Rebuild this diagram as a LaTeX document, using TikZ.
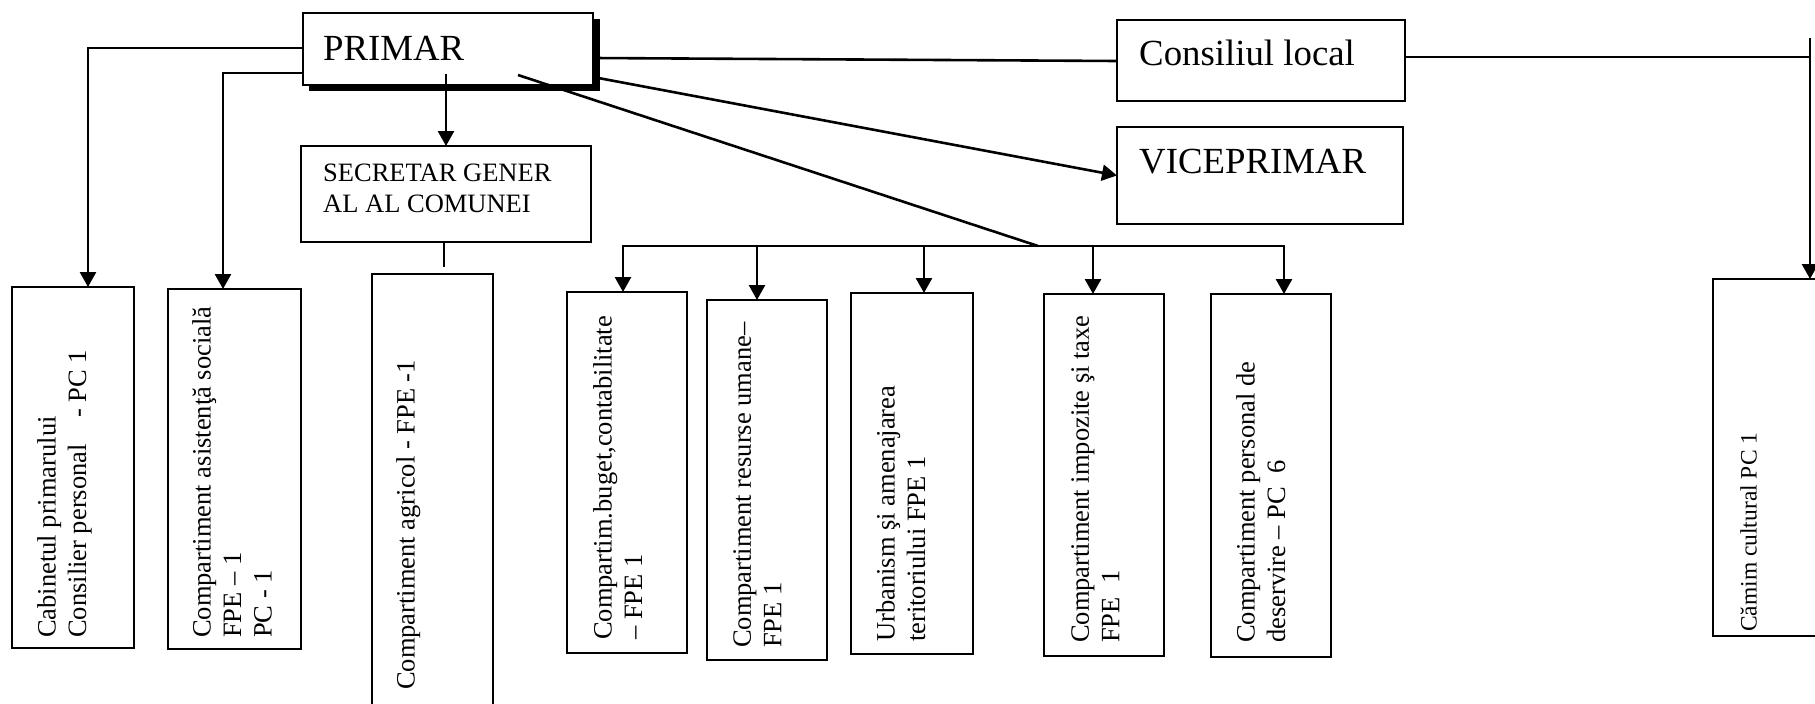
\documentclass[tikz,border=0pt]{standalone}
\usepackage{fontspec}
\setmainfont{Liberation Serif}
\usetikzlibrary{arrows.meta}
\begin{document}
\begin{tikzpicture}[x=1pt,y=-1pt,
  box/.style={draw, line width=2.7pt, fill=white, inner sep=0pt, outer sep=0pt, anchor=north west},
  conn/.style={line width=2.6pt},
  arr/.style={conn, -{Triangle[length=15pt,width=16pt]}},
  vtext/.style={rotate=90, anchor=north west, inner sep=0pt, align=left, font=\fontsize{26.5pt}{30.5pt}\selectfont},
  stext/.style={anchor=north west, inner sep=0pt, align=left, font=\fontsize{26.5pt}{30.5pt}\selectfont},
  htext/.style={anchor=base west, inner sep=0pt, font=\fontsize{36.8pt}{42pt}\selectfont},
]
\fill[white] (0,0) rectangle (1815,704);
\useasboundingbox (0,0) rectangle (1815,704);

% shadow of PRIMAR
\fill[black] (309,19) rectangle (600,91);
% boxes
\node[box, minimum width=290pt, minimum height=72pt] (primar) at (303,13) {};
\node[box, minimum width=290pt, minimum height=96pt] (secretar) at (301,146) {};
\node[box, minimum width=288pt, minimum height=81pt] (consiliu) at (1117,20) {};
\node[box, minimum width=286pt, minimum height=97pt] (vice) at (1117,127) {};
\node[box, minimum width=122pt, minimum height=361pt] (cab) at (12,287) {};
\node[box, minimum width=133pt, minimum height=360pt] (asist) at (168,289) {};
\node[box, minimum width=121pt, minimum height=460pt] (agr) at (372,274) {};
\node[box, minimum width=120pt, minimum height=361pt] (buget) at (567,292) {};
\node[box, minimum width=120pt, minimum height=360pt] (res) at (707,300) {};
\node[box, minimum width=122pt, minimum height=361pt] (urb) at (851,293) {};
\node[box, minimum width=120pt, minimum height=362pt] (imp) at (1044,294) {};
\node[box, minimum width=120pt, minimum height=363pt] (pers) at (1211,294) {};
\node[box, minimum width=194pt, minimum height=357pt] (camin) at (1713,279) {};

% texts
\node[htext] (primarT) at (323,60) {PRIMAR};
\node[htext] (consT) at (1139,65) {Consiliul local};
\node[htext] (viceT) at (1139,173) {VICEPRIMAR};
\node[stext] (secT) at (323,164) {SECRETAR GENER\\AL AL COMUNEI};

\node[vtext] (cabT) at (37,638) {Cabinetul primarului\\Consilier personal\hspace{0.75em} - PC 1};
\node[vtext] (asistT) at (192,638) {Compartiment asistenţă socială\\FPE – 1\\PC - 1};
\node[vtext] (agrT) at (396,690) {Compartiment agricol - FPE -1};
\node[vtext] (bugT) at (593,640) {Compartim.buget,contabilitate\\– FPE 1};
\node[vtext] (resT) at (733,648) {Compartiment resurse umane–\\FPE 1};
\node[vtext] (urbT) at (876,642) {Urbanism şi amenajarea\\teritoriului FPE 1};
\node[vtext] (impT) at (1071,643) {Compartiment impozite şi taxe\\FPE\ \ 1};
\node[vtext] (persT) at (1236,643) {Compartiment personal de\\deservire – PC\ \ 6};
\node[vtext, font=\fontsize{23.5pt}{27pt}\selectfont] (caminT) at (1740,632) {Cămim cultural PC 1};

% connectors
\draw[arr] (primar.west |- 0,48) -| (88,0 |- cab.north);
\draw[arr] (primar.west |- 0,73) -| (223,0 |- asist.north);
\coordinate (pd) at (446,74);
\draw[arr] (pd) -- (pd |- secretar.north);
\coordinate (sd) at (444,267);
\draw[conn] (secretar.south -| sd) -- (sd);
\draw[conn] (primar.east |- 0,58) -- (consiliu.west |- 0,61);
\coordinate (cr) at (1810,57);
\draw[conn] (consiliu.east |- cr) -- (cr);
\coordinate (ct) at (1810,38);
\draw[arr] (ct) -- (ct |- camin.north);
\draw[arr] (primar.east |- 0,77) -- (vice.west);
\coordinate (ds) at (518,75);
\coordinate (bj) at (1038,246);
\draw[conn] (ds) -- (bj);
\draw[arr] (bj) -| (623,0 |- buget.north);
\draw[arr] (bj) -| (1284,0 |- pers.north);
\foreach \xx/\nn in {757/res, 924/urb, 1093/imp}
  \draw[arr] (\xx,246) -- (\xx,0 |- \nn.north);
\end{tikzpicture}
\end{document}
